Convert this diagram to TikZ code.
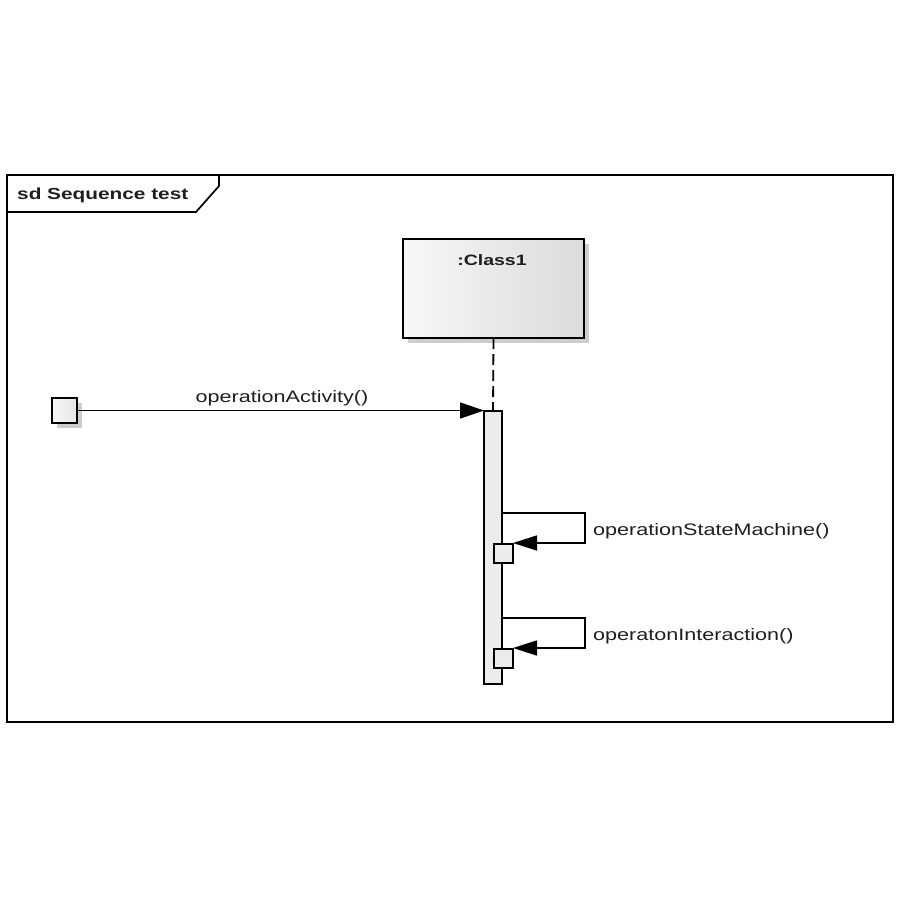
\documentclass[tikz,border=0pt]{standalone}
\usepackage{fontspec}
\newfontfamily\umlfont[FakeStretch=1.3]{Liberation Sans}
\usetikzlibrary{arrows.meta,shadows}
\definecolor{barfill}{RGB}{236,236,236}
\definecolor{shade}{RGB}{205,205,205}
\begin{document}
\begin{tikzpicture}[x=1pt,y=-1pt,
  font=\umlfont\fontsize{16.6}{20}\selectfont,
  box/.style={draw=black,inner sep=0pt,outer sep=0pt},
  msg/.style={line width=1.7pt,-{Triangle[length=24pt,width=16pt]}},
  selfmsg/.style={line width=1.7pt,-{Triangle[length=24pt,width=15pt]}},
  lbl/.style={inner sep=0pt,text=black!88}]
\useasboundingbox[fill=white] (0,0) rectangle (900,900);

% interaction frame
\node[box,line width=1.7pt,minimum width=886pt,minimum height=547pt] (frame) at (450,448.5) {};
\draw[line width=1.7pt] (7,212) -- (196,212) -- (219,186) -- (219,175);
\node[lbl,anchor=west,font=\umlfont\bfseries\fontsize{16}{20}\selectfont] (title) at (17,195) {sd Sequence test};

% lifeline head
\node[box,line width=2pt,minimum width=181pt,minimum height=99pt,
  left color=white!97!black,right color=black!14,
  drop shadow={shadow xshift=5pt,shadow yshift=-5pt,fill=shade,opacity=1}]
  (cls) at (493.5,288.5) {};
\node[lbl,font=\umlfont\bfseries\fontsize{15}{18}\selectfont] (clsname) at (492,260) {:Class1};

% activation bar
\node[box,line width=1.7pt,fill=barfill,minimum width=18pt,minimum height=273pt] (bar) at (493,547.5) {};
\draw[line width=1.8pt,dash pattern=on 11pt off 5pt] (cls.south) -- (bar.north);

% found message start
\node[box,line width=1.8pt,left color=white!97!black,right color=black!10,minimum width=25pt,minimum height=25pt,
  drop shadow={shadow xshift=5pt,shadow yshift=-5pt,fill=shade,opacity=1}] (start) at (64.5,410.5) {};
\draw[msg] (start.east) -- (start.east -| bar.west);
\node[lbl] (m1) at (282,398) {operationActivity()};

% nested activations for self calls
\node[box,line width=1.7pt,fill=barfill,minimum width=19pt,minimum height=19pt] (act1) at (503.5,553.5) {};
\node[box,line width=1.7pt,fill=barfill,minimum width=19pt,minimum height=19pt] (act2) at (503.5,658.5) {};

\coordinate (s1) at (502,513);
\coordinate (r1) at (585,543);
\coordinate (s2) at (502,618);
\coordinate (r2) at (585,648);
\draw[selfmsg] (s1) -- (s1 -| r1) -- (r1) -- (r1 -| act1.east);
\draw[selfmsg] (s2) -- (s2 -| r2) -- (r2) -- (r2 -| act2.east);
\node[lbl,anchor=west] (m2) at (593,531) {operationStateMachine()};
\node[lbl,anchor=west] (m3) at (593,636) {operatonInteraction()};
\end{tikzpicture}
\end{document}
